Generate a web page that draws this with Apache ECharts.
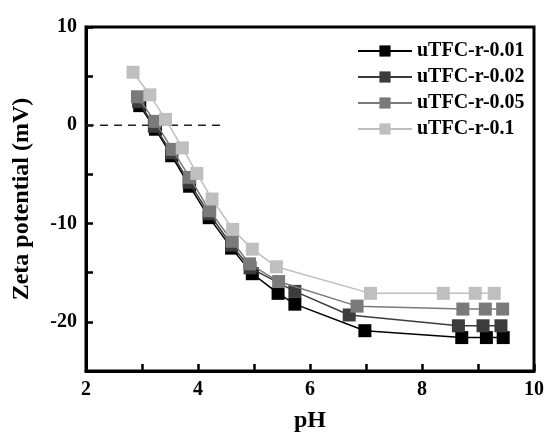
<!DOCTYPE html>
<html>
<head>
<meta charset="utf-8">
<script src="https://cdn.jsdelivr.net/npm/echarts@6/dist/echarts.min.js"></script>
<style>
  html, body { margin: 0; padding: 0; background: #ffffff; }
  #chart { width: 547px; height: 442px; }
</style>
</head>
<body>
<div id="chart"></div>
<script>
// Zeta potential vs pH for the four uTFC-r membranes
const seriesNames = ['uTFC-r-0.01', 'uTFC-r-0.02', 'uTFC-r-0.05', 'uTFC-r-0.1'];

const ph001 = [2.96, 3.24, 3.53, 3.85, 4.20, 4.60, 4.97, 5.43, 5.73, 6.98, 8.71, 9.15, 9.45];
const zeta001 = [2.0, -0.4, -3.1, -6.2, -9.4, -12.5, -15.1, -17.1, -18.2, -20.9, -21.6, -21.6, -21.6];

const ph002 = [2.94, 3.22, 3.53, 3.84, 4.20, 4.60, 4.93, 5.73, 6.70, 8.65, 9.09, 9.41];
const zeta002 = [2.4, -0.1, -2.8, -5.8, -9.0, -12.2, -14.5, -16.9, -19.3, -20.4, -20.4, -20.4];

const ph005 = [2.92, 3.23, 3.54, 3.85, 4.21, 4.61, 4.92, 5.44, 6.84, 8.73, 9.13, 9.44];
const zeta005 = [2.9, 0.4, -2.45, -5.3, -8.7, -11.8, -14.1, -15.9, -18.4, -18.7, -18.7, -18.7];

const ph01 = [2.84, 3.14, 3.42, 3.72, 3.98, 4.25, 4.62, 4.97, 5.40, 7.08, 8.38, 8.95, 9.29];
const zeta01 = [5.4, 3.1, 0.6, -2.3, -4.9, -7.5, -10.6, -12.6, -14.4, -17.1, -17.1, -17.1, -17.1];

// reference line at zero potential
const zeroLinePh = [2, 4.4];
const zeroLineZeta = [0, 0];

const phTicks = [2, 4, 6, 8, 10];
const zetaTicks = [-20, -10, 0, 10];

const colors = ['#000000', '#3c3c3c', '#7a7a7a', '#bfbfbf'];
const font = '"Liberation Serif", "Times New Roman", serif';

function pairs(xs, ys) {
  return xs.map((x, i) => [x, ys[i]]);
}

const dataSets = [
  pairs(ph001, zeta001),
  pairs(ph002, zeta002),
  pairs(ph005, zeta005),
  pairs(ph01, zeta01)
];

const chart = echarts.init(document.getElementById('chart'), null, { renderer: 'canvas' });

const series = dataSets.map((d, i) => ({
  name: seriesNames[i],
  type: 'line',
  data: d,
  symbol: 'rect',
  symbolSize: 13,
  showSymbol: true,
  itemStyle: { color: colors[i] },
  lineStyle: { color: colors[i], width: 1.5 },
  z: 3 + i,
  animation: false
}));

series.push({
  name: 'zero',
  type: 'line',
  data: pairs(zeroLinePh, zeroLineZeta),
  symbol: 'none',
  silent: true,
  lineStyle: { color: '#222222', width: 1.5, type: [8, 6] },
  z: 2,
  animation: false
});

chart.setOption({
  backgroundColor: '#ffffff',
  animation: false,
  grid: {
    left: 86, right: 10, top: 27, bottom: 71,
    show: true, borderColor: '#000000', borderWidth: 3
  },
  legend: {
    data: seriesNames,
    orient: 'vertical',
    left: 352,
    top: 36,
    itemWidth: 54,
    itemHeight: 14,
    itemGap: 6,
    textStyle: { fontFamily: font, fontWeight: 'bold', fontSize: 20, color: '#000' }
  },
  xAxis: {
    type: 'value',
    min: 2, max: 10, interval: 1,
    name: 'pH',
    nameLocation: 'middle',
    nameGap: 38,
    nameTextStyle: { fontFamily: font, fontWeight: 'bold', fontSize: 24, color: '#000' },
    axisLine: { show: true, onZero: false, lineStyle: { color: '#000', width: 3 } },
    axisTick: { show: true, inside: true, length: 7, lineStyle: { color: '#000', width: 2.5 } },
    axisLabel: {
      margin: 9,
      fontFamily: font, fontWeight: 'bold', fontSize: 20, color: '#000',
      formatter: v => (phTicks.indexOf(v) >= 0 ? String(v) : '')
    },
    splitLine: { show: false }
  },
  yAxis: {
    type: 'value',
    min: -25, max: 10, interval: 5,
    name: 'Zeta potential (mV)',
    nameLocation: 'middle',
    nameGap: 52,
    nameTextStyle: { fontFamily: font, fontWeight: 'bold', fontSize: 24, color: '#000' },
    axisLine: { show: true, onZero: false, lineStyle: { color: '#000', width: 3 } },
    axisTick: { show: true, inside: true, length: 7, lineStyle: { color: '#000', width: 2.5 } },
    axisLabel: {
      margin: 9,
      fontFamily: font, fontWeight: 'bold', fontSize: 20, color: '#000',
      formatter: v => (zetaTicks.indexOf(v) >= 0 ? String(v) : '')
    },
    splitLine: { show: false }
  },
  series: series
});
</script>
</body>
</html>
